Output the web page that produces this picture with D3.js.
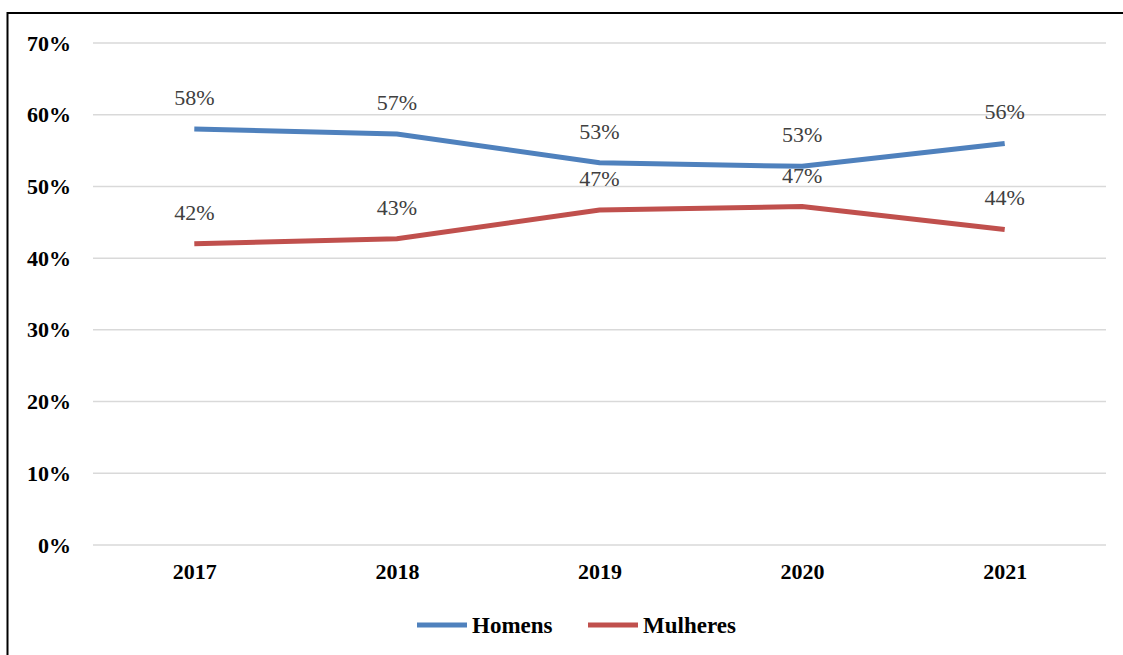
<!DOCTYPE html>
<html lang="pt">
<head>
<meta charset="UTF-8">
<title>Homens e Mulheres 2017-2021</title>
<script src="https://d3js.org/d3.v7.min.js"></script>
<style>
    body { margin: 0; background: #fff; }
    svg { display: block; }
    .axis text { font-family: "Liberation Serif", "Times New Roman", serif; font-weight: bold; font-size: 22px; fill: #000; }
    .lbl { font-family: "Liberation Serif", "Times New Roman", serif; font-size: 22px; fill: #404040; }
    .legend text { font-family: "Liberation Serif", "Times New Roman", serif; font-weight: bold; font-size: 23px; fill: #000; }
</style>
</head>
<body>
<div id="chart"></div>
<script>
// data
const years = ["2017", "2018", "2019", "2020", "2021"];
const homens = [0.58, 0.573, 0.533, 0.528, 0.56];
const mulheres = [0.42, 0.427, 0.467, 0.472, 0.44];
const labelsHomens = ["58%", "57%", "53%", "53%", "56%"];
const labelsMulheres = ["42%", "43%", "47%", "47%", "44%"];
const yTicks = [0, 0.1, 0.2, 0.3, 0.4, 0.5, 0.6, 0.7];

const series = [
    { name: "Homens", values: homens, labels: labelsHomens, color: "#4F81BD" },
    { name: "Mulheres", values: mulheres, labels: labelsMulheres, color: "#C0504D" }
];

const W = 1123, H = 655;
const plot = { left: 93, right: 1106, top: 43, bottom: 545 };

const svg = d3.select("#chart").append("svg")
    .attr("width", W)
    .attr("height", H);

// outer frame (runs off the right and bottom edges)
svg.append("rect")
    .attr("x", 7.5).attr("y", 13)
    .attr("width", 1130).attr("height", 660)
    .attr("fill", "none")
    .attr("stroke", "#000")
    .attr("stroke-width", 2);

const x = d3.scalePoint().domain(years).range([plot.left, plot.right]).padding(0.5);
const y = d3.scaleLinear().domain([0, 0.7]).range([plot.bottom, plot.top]);

// gridlines
svg.append("g")
    .selectAll("line")
    .data(yTicks)
    .enter().append("line")
    .attr("x1", plot.left).attr("x2", plot.right)
    .attr("y1", d => y(d)).attr("y2", d => y(d))
    .attr("stroke", "#d9d9d9")
    .attr("stroke-width", 1.5);

// y axis
const yAxis = svg.append("g")
    .attr("class", "axis")
    .attr("transform", `translate(${plot.left},0)`)
    .call(d3.axisLeft(y).tickValues(yTicks).tickFormat(d3.format(".0%")).tickSize(0).tickPadding(22));
yAxis.select(".domain").remove();
yAxis.selectAll("text").attr("dy", "0.32em");

// x axis
const xAxis = svg.append("g")
    .attr("class", "axis")
    .attr("transform", `translate(0,${plot.bottom})`)
    .call(d3.axisBottom(x).tickSize(0).tickPadding(18));
xAxis.select(".domain").remove();

// lines
const line = d3.line()
    .x((d, i) => x(years[i]))
    .y(d => y(d));

svg.append("g")
    .selectAll("path")
    .data(series)
    .enter().append("path")
    .attr("d", d => line(d.values))
    .attr("fill", "none")
    .attr("stroke", d => d.color)
    .attr("stroke-width", 5);

// data labels
series.forEach(s => {
    svg.append("g")
        .selectAll("text")
        .data(s.values)
        .enter().append("text")
        .attr("class", "lbl")
        .attr("x", (d, i) => x(years[i]))
        .attr("y", d => y(d) - 24)
        .attr("text-anchor", "middle")
        .text((d, i) => s.labels[i]);
});

// legend
const legendItems = [
    { name: "Homens", color: "#4F81BD", x: 417 },
    { name: "Mulheres", color: "#C0504D", x: 588 }
];
const legend = svg.append("g").attr("class", "legend");
const item = legend.selectAll("g")
    .data(legendItems)
    .enter().append("g")
    .attr("transform", d => `translate(${d.x},625)`);
item.append("line")
    .attr("x1", 0).attr("x2", 50)
    .attr("stroke", d => d.color)
    .attr("stroke-width", 5);
item.append("text")
    .attr("x", 55)
    .attr("dy", "0.35em")
    .text(d => d.name);
</script>
</body>
</html>
